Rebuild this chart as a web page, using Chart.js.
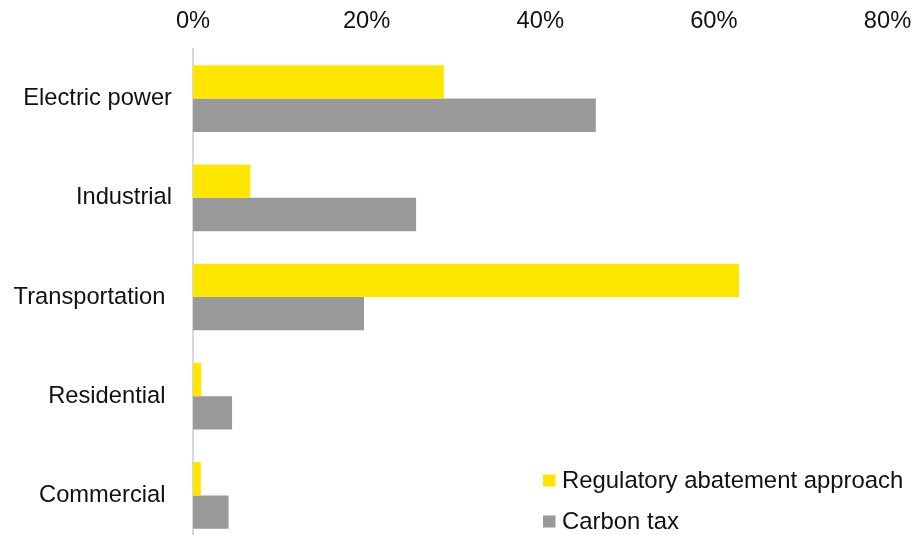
<!DOCTYPE html>
<html>
<head>
<meta charset="utf-8">
<script src="https://cdn.jsdelivr.net/npm/chart.js@4/dist/chart.umd.min.js"></script>
<style>
  html, body { margin: 0; padding: 0; background: #fff; overflow: hidden; }
  canvas { display: block; }
</style>
</head>
<body>
<canvas id="chart" width="917" height="545"></canvas>
<script>
// datos
const sectores = ["Electric power", "Industrial", "Transportation ", "Residential ", "Commercial "];
const regulatorio = [28.9, 6.6, 62.9, 0.95, 0.9];
const impuesto = [46.4, 25.7, 19.7, 4.5, 4.1];
const ticksX = [0, 20, 40, 60, 80];

const AMARILLO = "#FFE600";
const GRIS = "#999999";
const FUENTE = "'Liberation Sans', Arial, sans-serif";

Chart.defaults.font.family = FUENTE;
Chart.defaults.font.size = 23.7;
Chart.defaults.color = "#111111";

// leyenda dibujada dentro del area del grafico, abajo a la derecha
const leyendaAbajo = {
    id: "leyendaAbajo",
    afterDraw(chart) {
        const ctx = chart.ctx;
        const filas = [
            { x: 543, y: 480.5 },
            { x: 543, y: 521.5 }
        ];
        ctx.save();
        ctx.font = "23.9px " + FUENTE;
        ctx.textBaseline = "middle";
        ctx.textAlign = "left";
        chart.data.datasets.forEach((ds, i) => {
            const f = filas[i];
            ctx.fillStyle = ds.backgroundColor;
            ctx.fillRect(f.x, f.y - 6, 12.5, 12);
            ctx.fillStyle = "#111111";
            ctx.fillText(ds.label, f.x + 19, f.y + 1);
        });
        ctx.restore();
    }
};

new Chart(document.getElementById("chart"), {
    type: "bar",
    data: {
        labels: sectores,
        datasets: [
            { label: "Regulatory abatement approach", data: regulatorio, backgroundColor: AMARILLO },
            { label: "Carbon tax", data: impuesto, backgroundColor: GRIS }
        ]
    },
    options: {
        indexAxis: "y",
        responsive: false,
        animation: false,
        categoryPercentage: 0.672,
        barPercentage: 1,
        layout: { padding: { left: 0, right: 29.5, top: 0, bottom: 0 } },
        plugins: {
            legend: { display: false },
            tooltip: { enabled: false }
        },
        scales: {
            x: {
                position: "top",
                min: 0,
                max: 80,
                afterBuildTicks: s => { s.ticks = ticksX.map(v => ({ value: v })); },
                afterFit: s => { s.height = 49; },
                grid: { display: false },
                border: { display: false },
                ticks: {
                    padding: 5.5,
                    maxRotation: 0,
                    callback: v => v + "%"
                }
            },
            y: {
                afterFit: s => {
                    s.width = 193;
                    s.paddingTop = 0;
                    s.paddingBottom = 0;
                },
                grid: { drawOnChartArea: false, drawTicks: false },
                border: { display: true, color: "#d9d9d9", width: 2 },
                ticks: { padding: 21 }
            }
        }
    },
    plugins: [leyendaAbajo]
});
</script>
</body>
</html>
